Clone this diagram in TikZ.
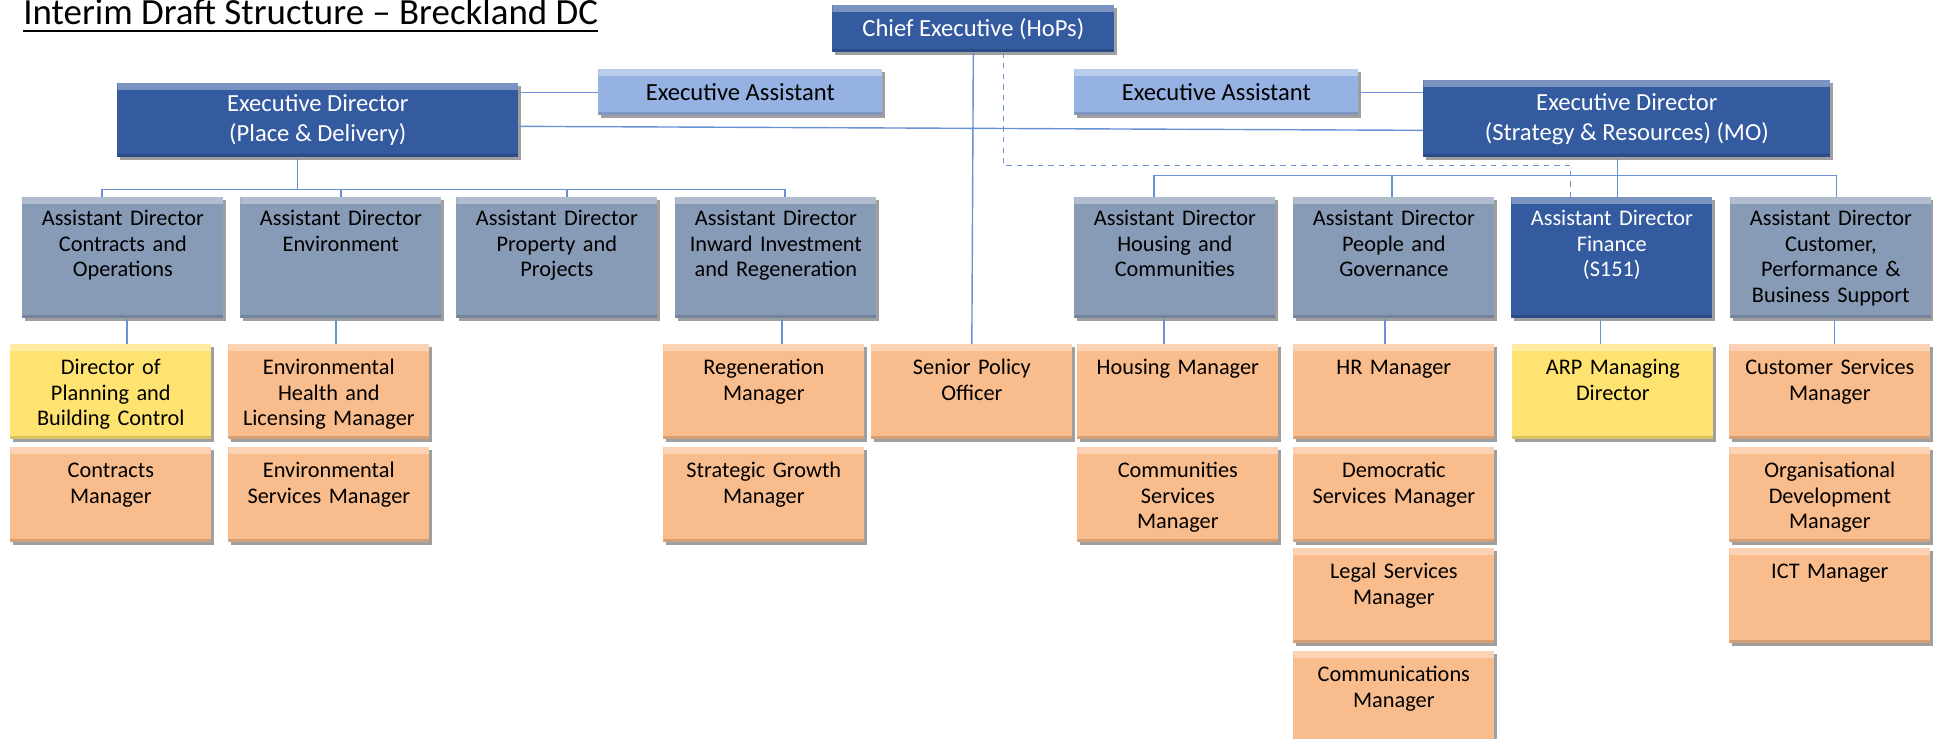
\documentclass[tikz,border=0pt]{standalone}
\usepackage{fontspec}
\setmainfont{Carlito}
\usetikzlibrary{shadows}

\definecolor{chiefblue}{RGB}{52,90,160}
\definecolor{assistblue}{RGB}{150,178,226}
\definecolor{adgrey}{RGB}{136,155,182}
\definecolor{mgrorange}{RGB}{249,188,140}
\definecolor{mgryellow}{RGB}{255,227,112}
\definecolor{linkblue}{RGB}{104,145,214}

\begin{document}
\begin{tikzpicture}[x = 0.02cm, y = -0.02cm,
        bevel/.style = {anchor = north west, inner sep = 0pt, align = center,
            font = \fontsize{12.7}{14.7}\selectfont,
            drop shadow = {shadow xshift = 1.5pt, shadow yshift = -1.5pt, fill = black!75, opacity = 0.5},
            path picture = {
                \fill [white, opacity = 0.35] (path picture bounding box.north west) rectangle ([yshift = -4pt]path picture bounding box.north east);
                \fill [black, opacity = 0.15] (path picture bounding box.south west) rectangle ([yshift = 2pt]path picture bounding box.south east);}},
        topbox/.style = {bevel, fill = chiefblue, text = white, font = \fontsize{14}{17}\selectfont},
        assist/.style = {bevel, fill = assistblue, minimum width = 5.68cm, minimum height = 0.92cm, font = \fontsize{14}{17}\selectfont},
        adbox/.style = {bevel, fill = adgrey, text width = 4.02cm, text height = 0.56cm, text depth = 1.86cm},
        mgr/.style = {bevel, fill = mgrorange, text width = 4.02cm, text height = 0.60cm, text depth = 1.30cm},
        link/.style = {draw = linkblue, line width = 0.8pt}]
    \useasboundingbox (0,0) rectangle (1933,739);

    % title
    \node [anchor = base west, inner sep = 0pt, font = \fontsize{21}{25}\selectfont] (title) at (23,25) {Interim Draft Structure – Breckland DC};
    \draw [line width = 1.1pt] ([yshift = -3.4pt]title.base west) -- ([yshift = -3.4pt]title.base east);

    % top tier
    \node [topbox, minimum width = 5.64cm, minimum height = 0.94cm] (ce) at (832,5) {Chief Executive (HoPs)};
    \node [assist] (eal) at (598,69) {Executive Assistant};
    \node [assist] (ear) at (1074,69) {Executive Assistant};
    \node [topbox, minimum width = 8.02cm, minimum height = 1.48cm] (edp) at (117,83) {Executive Director\\(Place \& Delivery)};
    \node [topbox, minimum width = 8.14cm, minimum height = 1.54cm] (eds) at (1423,80) {Executive Director\\(Strategy \& Resources) (MO)};

    % assistant directors
    \node [adbox] (ad1) at (22,197) {Assistant Director\\Contracts and\\Operations};
    \node [adbox] (ad2) at (240,197) {Assistant Director\\Environment};
    \node [adbox] (ad3) at (456,197) {Assistant Director\\Property and\\Projects};
    \node [adbox] (ad4) at (675,197) {Assistant Director\\Inward Investment\\and Regeneration};
    \node [adbox] (adh) at (1074,197) {Assistant Director\\Housing and\\Communities};
    \node [adbox] (adp) at (1293,197) {Assistant Director\\People and\\Governance};
    \node [adbox, fill = chiefblue, text = white] (adf) at (1511,197) {Assistant Director\\Finance\\(S151)};
    \node [adbox] (adc) at (1730,197) {Assistant Director\\Customer,\\Performance \&\\Business Support};

    % managers
    \node [mgr, fill = mgryellow] (dop) at (10,344) {Director of\\Planning and\\Building Control};
    \node [mgr] (contr) at (10,447) {Contracts\\Manager};
    \node [mgr] (envh) at (228,344) {Environmental\\Health and\\Licensing Manager};
    \node [mgr] (envs) at (228,447) {Environmental\\Services Manager};
    \node [mgr] (regen) at (663,344) {Regeneration\\Manager};
    \node [mgr] (sgrowth) at (663,447) {Strategic Growth\\Manager};
    \node [mgr] (spo) at (871,344) {Senior Policy\\Officer};
    \node [mgr] (housing) at (1077,344) {Housing Manager};
    \node [mgr] (commsvc) at (1077,447) {Communities\\Services\\Manager};
    \node [mgr] (hr) at (1293,344) {HR Manager};
    \node [mgr] (democ) at (1293,447) {Democratic\\Services Manager};
    \node [mgr] (legal) at (1293,548) {Legal Services\\Manager};
    \node [mgr] (comms) at (1293,651) {Communications\\Manager};
    \node [mgr, fill = mgryellow] (arp) at (1512,344) {ARP Managing\\Director};
    \node [mgr] (custsvc) at (1729,344) {Customer Services\\Manager};
    \node [mgr] (orgdev) at (1729,447) {Organisational\\Development\\Manager};
    \node [mgr] (ict) at (1729,548) {ICT Manager};

    % reporting lines
    \draw [link] (eal.west) -- (eal.west -| edp.east);
    \draw [link] (ear.east) -- (ear.east -| eds.west);
    \draw [link] ([yshift = -0.12cm]edp.east) -- ([yshift = -0.23cm]eds.west);
    \draw [link] (ce.south) -- (spo.north);
    \draw [link, dashed] ([xshift = 0.6cm]ce.south) -- ++(0,113) -| ([xshift = -0.83cm]adf.north);
    \draw [link] ([xshift = -0.41cm]edp.south) -- ++(0,32) coordinate (busl);
    \foreach \dst/\dx in {ad1/-0.42cm, ad2/0cm, ad3/0.2cm, ad4/0.18cm}
        \draw [link] (busl) -| ([xshift = \dx]\dst.north);
    \draw [link] ([xshift = -0.19cm]eds.south) -- ++(0,18) coordinate (busr) -- (busr |- adf.north);
    \foreach \dst/\dx in {adh/-0.42cm, adp/-0.04cm, adc/0.11cm}
        \draw [link] (busr) -| ([xshift = \dx]\dst.north);
    \foreach \src/\dst/\dx in {ad1/dop/0.08cm, ad2/envh/-0.1cm, ad4/regen/0.12cm, adh/housing/-0.22cm, adp/hr/-0.18cm, adf/arp/-0.23cm, adc/custsvc/0.07cm}
        \draw [link] ([xshift = \dx]\src.south) -- ([xshift = \dx]\src.south |- \dst.north);
\end{tikzpicture}
\end{document}
